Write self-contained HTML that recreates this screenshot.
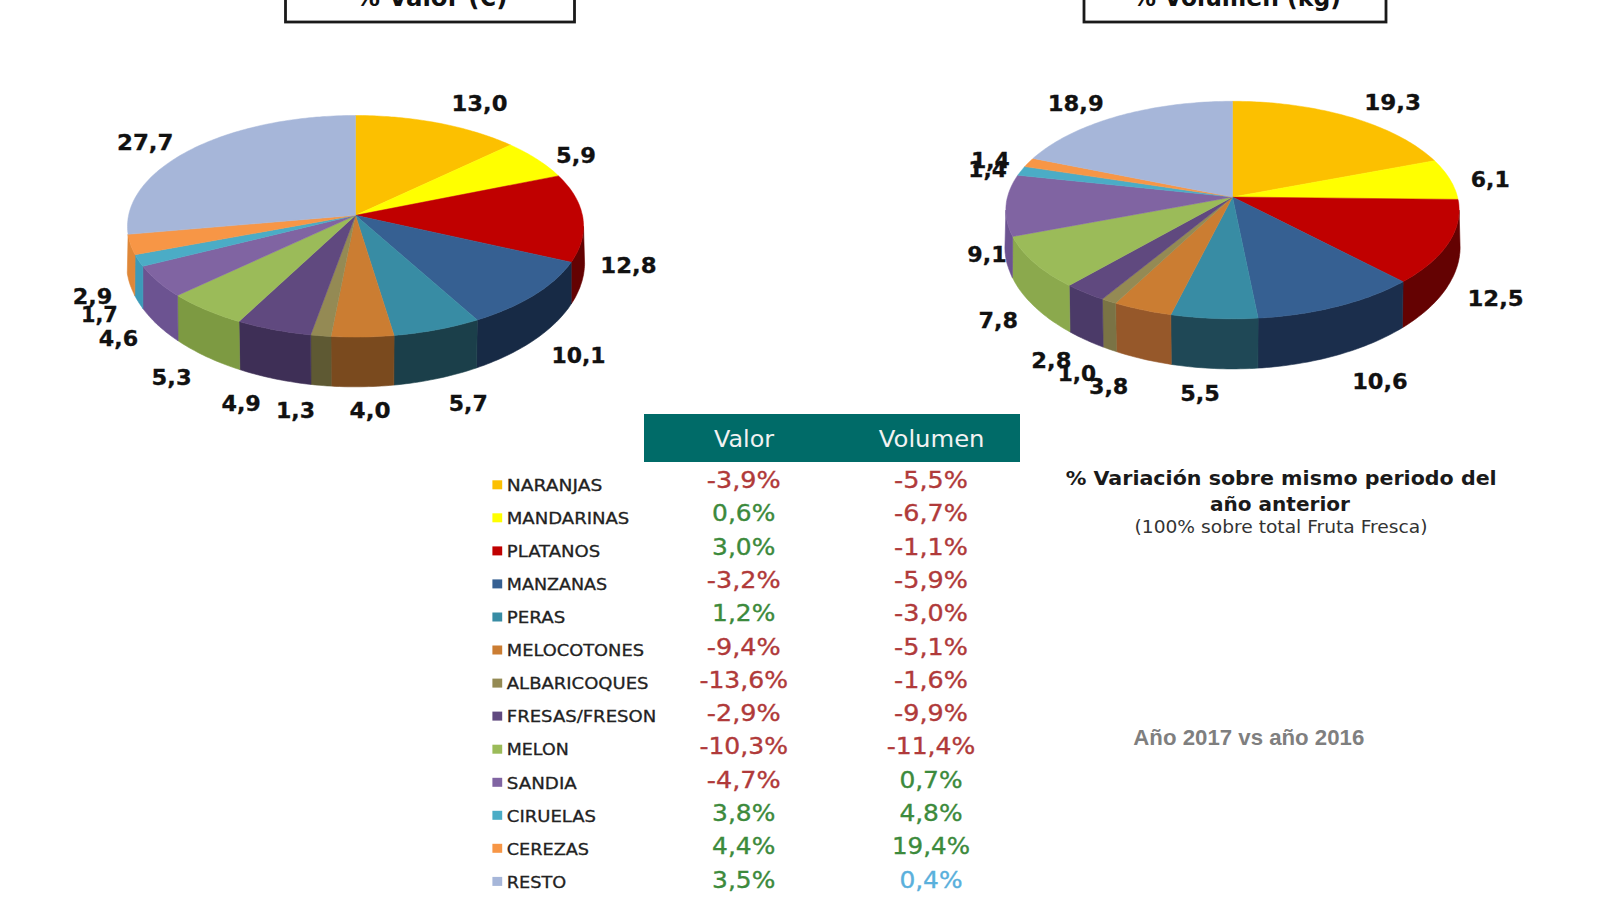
<!DOCTYPE html>
<html lang="es"><head><meta charset="utf-8"><title>Fruta fresca</title>
<style>
html,body{margin:0;padding:0;background:#fff;}
body{width:1600px;height:900px;overflow:hidden;}
svg{display:block;}
text{font-family:"DejaVu Sans","Liberation Sans",sans-serif;}
.pl text{font-weight:bold;font-size:21px;fill:#111;stroke:#111;stroke-width:0.3px;}
.lg{font-size:16px;fill:#222;stroke:#222;stroke-width:0.3px;}
.v{font-size:23px;stroke-width:0.35px;}
.h{font-size:23px;fill:#f2f2f2;}
.t{font-weight:bold;font-size:24px;fill:#111;text-anchor:middle;}
.n1{font-weight:bold;font-size:19.5px;fill:#1a1a1a;}
.n2{font-size:17.5px;fill:#333;}
.n3{font-family:"Liberation Sans","DejaVu Sans",sans-serif;font-weight:bold;font-size:21.5px;fill:#7f7f7f;}
</style></head><body>
<svg width="1600" height="900" viewBox="0 0 1600 900">
<rect width="1600" height="900" fill="#ffffff"/>
<rect x="285.5" y="-40" width="289" height="62" fill="none" stroke="#1a1a1a" stroke-width="2.8"/>
<text class="t" x="431.5" y="5.5" textLength="152" lengthAdjust="spacingAndGlyphs">% Valor (€)</text>
<rect x="1084" y="-40" width="302" height="62" fill="none" stroke="#1a1a1a" stroke-width="2.8"/>
<text class="t" x="1236.7" y="5.5" textLength="208.5" lengthAdjust="spacingAndGlyphs">% Volumen (kg)</text>
<g>
<path d="M583.5,226.3 L583.5,228.2 L583.4,230.1 L583.2,232.0 L583.0,233.9 L582.7,235.8 L582.3,237.7 L581.9,239.6 L581.4,241.5 L580.8,243.4 L580.1,245.3 L579.4,247.2 L578.6,249.1 L577.8,251.0 L576.8,252.9 L575.8,254.8 L574.8,256.6 L573.6,258.5 L572.4,260.4 L571.2,262.2 L571.2,304.0 L572.5,302.0 L573.8,299.9 L575.0,297.9 L576.1,295.8 L577.1,293.7 L578.1,291.6 L579.0,289.5 L579.9,287.4 L580.6,285.3 L581.3,283.2 L582.0,281.1 L582.5,279.0 L583.0,276.9 L583.5,274.8 L583.8,272.7 L584.1,270.6 L584.3,268.4 L584.5,266.3 L584.6,264.2Z" fill="#640202" stroke="#640202" stroke-width="0.6"/>
<path d="M571.2,262.2 L569.8,264.1 L568.4,265.9 L566.9,267.8 L565.3,269.6 L563.7,271.4 L562.0,273.3 L560.2,275.1 L558.4,276.8 L556.5,278.6 L554.5,280.4 L552.4,282.1 L550.3,283.8 L548.1,285.5 L545.9,287.2 L543.6,288.9 L541.2,290.6 L538.7,292.2 L536.2,293.8 L533.7,295.4 L531.0,297.0 L528.3,298.5 L525.6,300.1 L522.7,301.6 L519.8,303.1 L516.9,304.5 L513.9,306.0 L510.8,307.4 L507.7,308.7 L504.6,310.1 L501.3,311.4 L498.0,312.7 L494.7,314.0 L491.3,315.3 L487.9,316.5 L484.4,317.7 L480.9,318.8 L477.3,319.9 L476.5,367.9 L480.1,366.6 L483.6,365.4 L487.1,364.1 L490.6,362.7 L493.9,361.3 L497.3,359.9 L500.6,358.5 L503.8,357.0 L507.0,355.5 L510.1,354.0 L513.2,352.4 L516.2,350.8 L519.1,349.2 L522.0,347.6 L524.9,345.9 L527.7,344.2 L530.4,342.5 L533.0,340.8 L535.6,339.0 L538.2,337.2 L540.6,335.4 L543.0,333.6 L545.4,331.7 L547.7,329.8 L549.9,327.9 L552.0,326.0 L554.1,324.1 L556.1,322.2 L558.1,320.2 L560.0,318.2 L561.8,316.2 L563.5,314.2 L565.2,312.2 L566.8,310.2 L568.4,308.2 L569.8,306.1 L571.2,304.0Z" fill="#172A45" stroke="#172A45" stroke-width="0.6"/>
<path d="M477.3,319.9 L473.7,321.0 L470.0,322.1 L466.3,323.1 L462.6,324.1 L458.8,325.0 L455.0,325.9 L451.2,326.8 L447.3,327.7 L443.4,328.5 L439.4,329.3 L435.4,330.0 L431.4,330.7 L427.3,331.4 L423.3,332.0 L419.2,332.6 L415.0,333.2 L410.9,333.7 L406.7,334.2 L402.5,334.7 L398.3,335.1 L394.1,335.5 L393.8,385.1 L398.0,384.7 L402.2,384.2 L406.3,383.7 L410.5,383.2 L414.6,382.6 L418.7,382.0 L422.8,381.3 L426.8,380.6 L430.8,379.8 L434.8,379.1 L438.8,378.2 L442.7,377.4 L446.6,376.5 L450.5,375.5 L454.3,374.5 L458.1,373.5 L461.9,372.5 L465.6,371.4 L469.3,370.3 L472.9,369.1 L476.5,367.9Z" fill="#1B3F4A" stroke="#1B3F4A" stroke-width="0.6"/>
<path d="M394.1,335.5 L389.9,335.8 L385.8,336.1 L381.6,336.3 L377.4,336.5 L373.2,336.7 L369.0,336.9 L364.7,337.0 L360.5,337.0 L356.3,337.1 L352.1,337.0 L347.8,337.0 L343.6,336.9 L339.4,336.8 L335.2,336.6 L331.0,336.4 L331.2,386.1 L335.4,386.4 L339.5,386.5 L343.7,386.7 L347.9,386.8 L352.1,386.8 L356.3,386.8 L360.5,386.8 L364.7,386.7 L368.8,386.6 L373.0,386.5 L377.2,386.3 L381.4,386.0 L385.5,385.8 L389.7,385.4 L393.8,385.1Z" fill="#7A4A1E" stroke="#7A4A1E" stroke-width="0.6"/>
<path d="M331.0,336.4 L326.9,336.2 L322.8,335.9 L318.8,335.6 L314.7,335.3 L310.7,334.9 L311.0,384.4 L315.0,384.9 L319.1,385.2 L323.1,385.6 L327.1,385.9 L331.2,386.1Z" fill="#5E5933" stroke="#5E5933" stroke-width="0.6"/>
<path d="M310.7,334.9 L306.5,334.5 L302.3,334.0 L298.1,333.5 L294.0,332.9 L289.8,332.4 L285.7,331.7 L281.7,331.1 L277.6,330.4 L273.6,329.7 L269.6,328.9 L265.7,328.1 L261.7,327.3 L257.9,326.4 L254.0,325.5 L250.2,324.5 L246.4,323.6 L242.7,322.6 L239.0,321.5 L239.8,369.6 L243.5,370.8 L247.2,371.9 L250.9,373.0 L254.7,374.0 L258.5,375.0 L262.4,376.0 L266.3,376.9 L270.2,377.8 L274.2,378.7 L278.2,379.5 L282.2,380.2 L286.2,381.0 L290.3,381.6 L294.4,382.3 L298.5,382.9 L302.7,383.5 L306.8,384.0 L311.0,384.4Z" fill="#3E2F56" stroke="#3E2F56" stroke-width="0.6"/>
<path d="M239.0,321.5 L235.5,320.5 L232.0,319.4 L228.5,318.3 L225.1,317.2 L221.8,316.0 L218.5,314.8 L215.2,313.6 L212.0,312.3 L208.8,311.1 L205.7,309.8 L202.6,308.5 L199.6,307.1 L196.6,305.7 L193.7,304.3 L190.9,302.9 L188.1,301.5 L185.3,300.0 L182.7,298.5 L180.0,297.0 L177.5,295.5 L178.1,340.8 L180.7,342.5 L183.3,344.2 L186.0,345.8 L188.8,347.5 L191.6,349.1 L194.5,350.6 L197.4,352.2 L200.3,353.7 L203.4,355.2 L206.4,356.7 L209.6,358.1 L212.7,359.5 L216.0,360.9 L219.2,362.2 L222.5,363.5 L225.9,364.8 L229.3,366.1 L232.8,367.3 L236.3,368.5 L239.8,369.6Z" fill="#7D9A42" stroke="#7D9A42" stroke-width="0.6"/>
<path d="M177.5,295.5 L174.9,293.9 L172.4,292.3 L170.0,290.7 L167.6,289.0 L165.3,287.4 L163.1,285.7 L160.9,284.0 L158.8,282.3 L156.8,280.6 L154.8,278.8 L152.9,277.1 L151.1,275.3 L149.3,273.6 L147.6,271.8 L146.0,270.0 L144.4,268.1 L142.9,266.3 L142.9,308.6 L144.5,310.6 L146.1,312.6 L147.8,314.6 L149.5,316.6 L151.3,318.5 L153.2,320.5 L155.1,322.4 L157.1,324.4 L159.2,326.3 L161.4,328.2 L163.6,330.0 L165.8,331.9 L168.2,333.7 L170.5,335.5 L173.0,337.3 L175.5,339.1 L178.1,340.8Z" fill="#6C5391" stroke="#6C5391" stroke-width="0.6"/>
<path d="M142.9,266.3 L141.6,264.7 L140.4,263.0 L139.2,261.4 L138.1,259.7 L137.0,258.0 L136.0,256.3 L135.1,254.7 L134.8,295.7 L135.8,297.5 L136.9,299.4 L138.0,301.2 L139.1,303.1 L140.4,304.9 L141.6,306.7 L142.9,308.6Z" fill="#3C9AB8" stroke="#3C9AB8" stroke-width="0.6"/>
<path d="M135.1,254.7 L134.1,252.8 L133.2,251.0 L132.4,249.1 L131.6,247.3 L130.9,245.5 L130.3,243.6 L129.7,241.7 L129.2,239.9 L128.8,238.0 L128.4,236.2 L128.1,234.3 L127.3,273.2 L127.6,275.2 L128.1,277.3 L128.5,279.3 L129.1,281.4 L129.7,283.4 L130.4,285.5 L131.2,287.5 L132.0,289.6 L132.9,291.6 L133.8,293.6 L134.8,295.7Z" fill="#DF8738" stroke="#DF8738" stroke-width="0.6"/>
<path d="M355.5,215.3 L355.5,115.5 L359.1,115.5 L362.7,115.5 L366.3,115.6 L369.9,115.7 L373.4,115.8 L377.0,116.0 L380.6,116.2 L384.2,116.4 L387.7,116.6 L391.3,116.9 L394.8,117.1 L398.4,117.5 L401.9,117.8 L405.4,118.2 L408.9,118.6 L412.4,119.0 L415.9,119.4 L419.4,119.9 L422.8,120.4 L426.3,121.0 L429.7,121.5 L433.1,122.1 L436.5,122.7 L439.9,123.3 L443.2,124.0 L446.6,124.7 L449.9,125.4 L453.2,126.2 L456.4,126.9 L459.7,127.7 L462.9,128.5 L466.1,129.4 L469.3,130.3 L472.4,131.2 L475.5,132.1 L478.6,133.0 L481.7,134.0 L484.7,135.0 L487.7,136.0 L490.7,137.1 L493.6,138.1 L496.5,139.2 L499.4,140.3 L502.2,141.5 L505.0,142.6 L507.8,143.8 L510.5,145.0Z" fill="#FCC000" stroke="#FCC000" stroke-width="0.5"/>
<path d="M355.5,215.3 L510.5,145.0 L513.1,146.2 L515.7,147.4 L518.3,148.7 L520.8,149.9 L523.2,151.2 L525.6,152.5 L528.0,153.8 L530.4,155.2 L532.7,156.5 L534.9,157.9 L537.1,159.3 L539.3,160.7 L541.5,162.2 L543.5,163.6 L545.6,165.1 L547.6,166.6 L549.5,168.1 L551.4,169.6 L553.3,171.1 L555.1,172.7 L556.8,174.3 L558.5,175.9Z" fill="#FFFF00" stroke="#FFFF00" stroke-width="0.5"/>
<path d="M355.5,215.3 L558.5,175.9 L560.2,177.5 L561.8,179.1 L563.4,180.8 L564.9,182.5 L566.4,184.2 L567.8,185.9 L569.2,187.6 L570.5,189.3 L571.7,191.1 L572.9,192.8 L574.0,194.6 L575.1,196.4 L576.1,198.2 L577.0,200.0 L577.9,201.8 L578.7,203.6 L579.5,205.4 L580.1,207.3 L580.8,209.1 L581.3,211.0 L581.8,212.9 L582.3,214.7 L582.7,216.6 L583.0,218.5 L583.2,220.4 L583.4,222.3 L583.5,224.2 L583.5,226.1 L583.5,228.0 L583.4,229.9 L583.2,231.8 L583.0,233.7 L582.7,235.6 L582.3,237.6 L581.9,239.5 L581.4,241.4 L580.8,243.3 L580.2,245.2 L579.4,247.1 L578.7,249.0 L577.8,250.9 L576.9,252.8 L575.9,254.7 L574.8,256.6 L573.7,258.5 L572.4,260.4 L571.2,262.2Z" fill="#C00000" stroke="#C00000" stroke-width="0.5"/>
<path d="M355.5,215.3 L571.2,262.2 L569.8,264.1 L568.4,265.9 L566.9,267.8 L565.3,269.6 L563.7,271.4 L562.0,273.3 L560.2,275.1 L558.4,276.8 L556.5,278.6 L554.5,280.4 L552.4,282.1 L550.3,283.8 L548.1,285.5 L545.9,287.2 L543.6,288.9 L541.2,290.6 L538.7,292.2 L536.2,293.8 L533.7,295.4 L531.0,297.0 L528.3,298.5 L525.6,300.1 L522.7,301.6 L519.8,303.1 L516.9,304.5 L513.9,306.0 L510.8,307.4 L507.7,308.7 L504.6,310.1 L501.3,311.4 L498.0,312.7 L494.7,314.0 L491.3,315.3 L487.9,316.5 L484.4,317.7 L480.9,318.8 L477.3,319.9Z" fill="#366092" stroke="#366092" stroke-width="0.5"/>
<path d="M355.5,215.3 L477.3,319.9 L473.7,321.0 L470.0,322.1 L466.3,323.1 L462.6,324.1 L458.8,325.0 L455.0,325.9 L451.2,326.8 L447.3,327.7 L443.4,328.5 L439.4,329.3 L435.4,330.0 L431.4,330.7 L427.3,331.4 L423.3,332.0 L419.2,332.6 L415.0,333.2 L410.9,333.7 L406.7,334.2 L402.5,334.7 L398.3,335.1 L394.1,335.5Z" fill="#388CA4" stroke="#388CA4" stroke-width="0.5"/>
<path d="M355.5,215.3 L394.1,335.5 L389.9,335.8 L385.8,336.1 L381.6,336.3 L377.4,336.5 L373.2,336.7 L369.0,336.9 L364.7,337.0 L360.5,337.0 L356.3,337.1 L352.1,337.0 L347.8,337.0 L343.6,336.9 L339.4,336.8 L335.2,336.6 L331.0,336.4Z" fill="#CB7D32" stroke="#CB7D32" stroke-width="0.5"/>
<path d="M355.5,215.3 L331.0,336.4 L326.9,336.2 L322.8,335.9 L318.8,335.6 L314.7,335.3 L310.7,334.9Z" fill="#948A54" stroke="#948A54" stroke-width="0.5"/>
<path d="M355.5,215.3 L310.7,334.9 L306.5,334.5 L302.3,334.0 L298.1,333.5 L294.0,332.9 L289.8,332.4 L285.7,331.7 L281.7,331.1 L277.6,330.4 L273.6,329.7 L269.6,328.9 L265.7,328.1 L261.7,327.3 L257.9,326.4 L254.0,325.5 L250.2,324.5 L246.4,323.6 L242.7,322.6 L239.0,321.5Z" fill="#60497F" stroke="#60497F" stroke-width="0.5"/>
<path d="M355.5,215.3 L239.0,321.5 L235.5,320.5 L232.0,319.4 L228.5,318.3 L225.1,317.2 L221.8,316.0 L218.5,314.8 L215.2,313.6 L212.0,312.3 L208.8,311.1 L205.7,309.8 L202.6,308.5 L199.6,307.1 L196.6,305.7 L193.7,304.3 L190.9,302.9 L188.1,301.5 L185.3,300.0 L182.7,298.5 L180.0,297.0 L177.5,295.5Z" fill="#9BBB59" stroke="#9BBB59" stroke-width="0.5"/>
<path d="M355.5,215.3 L177.5,295.5 L174.9,293.9 L172.4,292.3 L170.0,290.7 L167.6,289.0 L165.3,287.4 L163.1,285.7 L160.9,284.0 L158.8,282.3 L156.8,280.6 L154.8,278.8 L152.9,277.1 L151.1,275.3 L149.3,273.6 L147.6,271.8 L146.0,270.0 L144.4,268.1 L142.9,266.3Z" fill="#8064A2" stroke="#8064A2" stroke-width="0.5"/>
<path d="M355.5,215.3 L142.9,266.3 L141.6,264.7 L140.4,263.0 L139.2,261.4 L138.1,259.7 L137.0,258.0 L136.0,256.3 L135.1,254.7Z" fill="#4BACC6" stroke="#4BACC6" stroke-width="0.5"/>
<path d="M355.5,215.3 L135.1,254.7 L134.1,252.8 L133.2,251.0 L132.4,249.1 L131.6,247.3 L130.9,245.5 L130.3,243.6 L129.7,241.7 L129.2,239.9 L128.8,238.0 L128.4,236.2 L128.1,234.3Z" fill="#F79646" stroke="#F79646" stroke-width="0.5"/>
<path d="M355.5,215.3 L128.1,234.3 L127.8,232.4 L127.6,230.4 L127.5,228.5 L127.5,226.6 L127.5,224.6 L127.6,222.7 L127.8,220.7 L128.0,218.8 L128.3,216.9 L128.7,215.0 L129.1,213.1 L129.6,211.2 L130.2,209.3 L130.8,207.4 L131.5,205.5 L132.3,203.7 L133.1,201.8 L134.0,200.0 L135.0,198.1 L136.0,196.3 L137.1,194.5 L138.2,192.7 L139.4,190.9 L140.7,189.1 L142.0,187.4 L143.4,185.6 L144.8,183.9 L146.3,182.2 L147.9,180.5 L149.5,178.8 L151.1,177.1 L152.9,175.5 L154.6,173.8 L156.5,172.2 L158.3,170.6 L160.3,169.0 L162.3,167.5 L164.3,165.9 L166.4,164.4 L168.5,162.9 L170.7,161.4 L172.9,159.9 L175.2,158.5 L177.5,157.0 L179.9,155.6 L182.3,154.2 L184.7,152.9 L187.2,151.5 L189.7,150.2 L192.3,148.9 L194.9,147.6 L197.6,146.3 L200.3,145.1 L203.0,143.9 L205.8,142.7 L208.6,141.5 L211.4,140.4 L214.3,139.3 L217.2,138.2 L220.1,137.1 L223.1,136.1 L226.1,135.0 L229.2,134.0 L232.2,133.1 L235.3,132.1 L238.4,131.2 L241.6,130.3 L244.8,129.4 L248.0,128.6 L251.2,127.8 L254.4,127.0 L257.7,126.2 L261.0,125.4 L264.3,124.7 L267.7,124.0 L271.0,123.4 L274.4,122.7 L277.8,122.1 L281.2,121.5 L284.6,121.0 L288.1,120.4 L291.5,119.9 L295.0,119.5 L298.5,119.0 L302.0,118.6 L305.5,118.2 L309.0,117.8 L312.6,117.5 L316.1,117.1 L319.7,116.9 L323.2,116.6 L326.8,116.4 L330.4,116.2 L333.9,116.0 L337.5,115.8 L341.1,115.7 L344.7,115.6 L348.3,115.5 L351.9,115.5 L355.5,115.5Z" fill="#A6B6D9" stroke="#A6B6D9" stroke-width="0.5"/>
</g>
<g>
<path d="M1459.1,210.1 L1459.1,211.9 L1459.0,213.8 L1458.8,215.7 L1458.6,217.6 L1458.3,219.5 L1457.9,221.4 L1457.5,223.3 L1456.9,225.1 L1456.4,227.0 L1455.7,228.9 L1455.0,230.8 L1454.2,232.7 L1453.3,234.6 L1452.4,236.5 L1451.3,238.3 L1450.3,240.2 L1449.1,242.1 L1447.9,243.9 L1446.6,245.8 L1445.2,247.6 L1443.8,249.4 L1442.3,251.2 L1440.7,253.1 L1439.0,254.9 L1437.3,256.6 L1435.5,258.4 L1433.6,260.2 L1431.7,261.9 L1429.7,263.7 L1427.6,265.4 L1425.4,267.1 L1423.2,268.8 L1420.9,270.5 L1418.6,272.1 L1416.2,273.8 L1413.7,275.4 L1411.1,277.0 L1408.5,278.6 L1405.8,280.1 L1403.1,281.7 L1402.4,327.7 L1405.2,326.0 L1407.9,324.3 L1410.5,322.5 L1413.1,320.7 L1415.6,318.9 L1418.0,317.1 L1420.4,315.3 L1422.7,313.4 L1425.0,311.6 L1427.1,309.7 L1429.3,307.8 L1431.3,305.8 L1433.3,303.9 L1435.2,301.9 L1437.0,300.0 L1438.8,298.0 L1440.5,296.0 L1442.1,294.0 L1443.7,291.9 L1445.2,289.9 L1446.6,287.9 L1447.9,285.8 L1449.2,283.8 L1450.4,281.7 L1451.5,279.6 L1452.6,277.6 L1453.6,275.5 L1454.5,273.4 L1455.4,271.3 L1456.1,269.2 L1456.9,267.1 L1457.5,265.0 L1458.1,262.9 L1458.6,260.8 L1459.0,258.7 L1459.4,256.6 L1459.6,254.5 L1459.9,252.4 L1460.0,250.4 L1460.1,248.3Z" fill="#640202" stroke="#640202" stroke-width="0.6"/>
<path d="M1403.1,281.7 L1400.3,283.2 L1397.4,284.6 L1394.5,286.1 L1391.5,287.5 L1388.5,289.0 L1385.4,290.3 L1382.3,291.7 L1379.0,293.0 L1375.8,294.3 L1372.4,295.6 L1369.1,296.9 L1365.6,298.1 L1362.2,299.3 L1358.6,300.4 L1355.1,301.5 L1351.4,302.6 L1347.8,303.7 L1344.0,304.7 L1340.3,305.7 L1336.5,306.7 L1332.6,307.6 L1328.7,308.5 L1324.8,309.4 L1320.9,310.2 L1316.9,311.0 L1312.8,311.8 L1308.8,312.5 L1304.7,313.2 L1300.5,313.8 L1296.4,314.4 L1292.2,315.0 L1288.0,315.5 L1283.8,316.0 L1279.6,316.4 L1275.3,316.9 L1271.0,317.2 L1266.7,317.6 L1262.4,317.9 L1258.1,318.1 L1257.9,368.1 L1262.2,367.9 L1266.5,367.5 L1270.7,367.2 L1275.0,366.7 L1279.2,366.3 L1283.4,365.8 L1287.6,365.2 L1291.8,364.6 L1295.9,364.0 L1300.0,363.3 L1304.1,362.6 L1308.2,361.9 L1312.2,361.1 L1316.2,360.2 L1320.2,359.4 L1324.2,358.5 L1328.1,357.5 L1331.9,356.5 L1335.8,355.5 L1339.6,354.4 L1343.3,353.3 L1347.0,352.1 L1350.7,351.0 L1354.3,349.8 L1357.9,348.5 L1361.4,347.2 L1364.9,345.9 L1368.3,344.5 L1371.7,343.2 L1375.0,341.8 L1378.3,340.3 L1381.5,338.8 L1384.6,337.3 L1387.7,335.8 L1390.8,334.2 L1393.8,332.6 L1396.7,331.0 L1399.6,329.4 L1402.4,327.7Z" fill="#1B2E4C" stroke="#1B2E4C" stroke-width="0.6"/>
<path d="M1258.1,318.1 L1253.7,318.3 L1249.3,318.5 L1244.9,318.7 L1240.5,318.8 L1236.1,318.8 L1231.7,318.8 L1227.3,318.8 L1222.9,318.7 L1218.5,318.6 L1214.1,318.5 L1209.7,318.3 L1205.3,318.0 L1200.9,317.8 L1196.6,317.4 L1192.3,317.1 L1187.9,316.7 L1183.6,316.3 L1179.3,315.8 L1175.1,315.3 L1170.8,314.7 L1171.3,364.4 L1175.5,365.0 L1179.8,365.5 L1184.0,366.1 L1188.3,366.6 L1192.6,367.0 L1196.9,367.4 L1201.2,367.7 L1205.5,368.0 L1209.9,368.3 L1214.2,368.5 L1218.6,368.7 L1223.0,368.8 L1227.3,368.9 L1231.7,368.9 L1236.1,368.9 L1240.5,368.8 L1244.8,368.7 L1249.2,368.6 L1253.5,368.4 L1257.9,368.1Z" fill="#1F4856" stroke="#1F4856" stroke-width="0.6"/>
<path d="M1170.8,314.7 L1166.7,314.1 L1162.6,313.5 L1158.5,312.8 L1154.4,312.2 L1150.3,311.4 L1146.3,310.6 L1142.3,309.8 L1138.4,309.0 L1134.5,308.1 L1130.6,307.2 L1126.8,306.3 L1123.0,305.3 L1119.3,304.3 L1115.6,303.2 L1116.4,351.6 L1120.0,352.8 L1123.8,353.9 L1127.5,355.0 L1131.3,356.0 L1135.2,357.1 L1139.1,358.0 L1143.0,359.0 L1146.9,359.9 L1150.9,360.7 L1154.9,361.5 L1159.0,362.3 L1163.1,363.0 L1167.2,363.7 L1171.3,364.4Z" fill="#96582A" stroke="#96582A" stroke-width="0.6"/>
<path d="M1115.6,303.2 L1112.2,302.2 L1108.9,301.2 L1105.6,300.2 L1102.4,299.1 L1103.2,347.1 L1106.4,348.2 L1109.7,349.4 L1113.0,350.5 L1116.4,351.6Z" fill="#7A7345" stroke="#7A7345" stroke-width="0.6"/>
<path d="M1102.4,299.1 L1099.2,298.0 L1095.9,296.9 L1092.8,295.7 L1089.7,294.5 L1086.6,293.3 L1083.6,292.0 L1080.6,290.8 L1077.7,289.5 L1074.8,288.2 L1072.0,286.8 L1069.2,285.5 L1070.0,331.9 L1072.7,333.4 L1075.6,334.9 L1078.4,336.4 L1081.4,337.8 L1084.4,339.2 L1087.4,340.6 L1090.4,341.9 L1093.6,343.3 L1096.7,344.6 L1099.9,345.8 L1103.2,347.1Z" fill="#4B3A68" stroke="#4B3A68" stroke-width="0.6"/>
<path d="M1069.2,285.5 L1066.4,284.0 L1063.6,282.6 L1060.8,281.1 L1058.1,279.5 L1055.5,278.0 L1053.0,276.4 L1050.5,274.9 L1048.1,273.3 L1045.7,271.6 L1043.4,270.0 L1041.2,268.4 L1039.0,266.7 L1036.9,265.0 L1034.9,263.3 L1032.9,261.6 L1031.0,259.9 L1029.2,258.1 L1027.4,256.4 L1025.8,254.6 L1024.1,252.8 L1022.6,251.1 L1021.1,249.3 L1019.7,247.5 L1018.3,245.6 L1017.1,243.8 L1015.9,242.0 L1014.7,240.2 L1013.7,238.3 L1012.7,236.5 L1012.4,277.6 L1013.5,279.6 L1014.6,281.7 L1015.8,283.7 L1017.0,285.7 L1018.3,287.8 L1019.7,289.8 L1021.2,291.8 L1022.7,293.8 L1024.3,295.7 L1026.0,297.7 L1027.7,299.7 L1029.5,301.6 L1031.4,303.5 L1033.3,305.4 L1035.3,307.3 L1037.4,309.2 L1039.5,311.1 L1041.7,312.9 L1043.9,314.8 L1046.3,316.6 L1048.6,318.4 L1051.1,320.2 L1053.6,321.9 L1056.2,323.6 L1058.8,325.3 L1061.5,327.0 L1064.3,328.7 L1067.1,330.3 L1070.0,331.9Z" fill="#8BA94D" stroke="#8BA94D" stroke-width="0.6"/>
<path d="M1012.7,236.5 L1011.7,234.6 L1010.8,232.7 L1010.0,230.8 L1009.3,229.0 L1008.7,227.1 L1008.1,225.2 L1007.5,223.3 L1007.1,221.4 L1006.7,219.5 L1006.4,217.6 L1006.2,215.7 L1006.0,213.8 L1005.9,211.9 L1005.9,210.1 L1004.9,248.3 L1005.0,250.4 L1005.1,252.5 L1005.4,254.5 L1005.6,256.6 L1006.0,258.7 L1006.4,260.8 L1006.9,262.9 L1007.5,265.0 L1008.2,267.1 L1008.9,269.2 L1009.7,271.3 L1010.5,273.4 L1011.4,275.5 L1012.4,277.6Z" fill="#6C5391" stroke="#6C5391" stroke-width="0.6"/>
<path d="M1232.5,197.0 L1232.5,101.3 L1236.0,101.3 L1239.4,101.3 L1242.9,101.4 L1246.4,101.5 L1249.9,101.6 L1253.3,101.7 L1256.8,101.9 L1260.2,102.1 L1263.7,102.3 L1267.1,102.6 L1270.5,102.8 L1274.0,103.1 L1277.4,103.4 L1280.8,103.8 L1284.2,104.2 L1287.6,104.5 L1291.0,105.0 L1294.3,105.4 L1297.7,105.9 L1301.0,106.4 L1304.3,106.9 L1307.7,107.4 L1311.0,108.0 L1314.2,108.6 L1317.5,109.2 L1320.7,109.9 L1324.0,110.5 L1327.2,111.2 L1330.3,111.9 L1333.5,112.7 L1336.7,113.5 L1339.8,114.2 L1342.9,115.1 L1345.9,115.9 L1349.0,116.8 L1352.0,117.6 L1355.0,118.5 L1358.0,119.5 L1360.9,120.4 L1363.9,121.4 L1366.7,122.4 L1369.6,123.4 L1372.4,124.5 L1375.2,125.6 L1378.0,126.7 L1380.7,127.8 L1383.4,128.9 L1386.1,130.1 L1388.7,131.2 L1391.3,132.4 L1393.9,133.7 L1396.4,134.9 L1398.9,136.2 L1401.3,137.5 L1403.7,138.8 L1406.1,140.1 L1408.4,141.5 L1410.7,142.8 L1412.9,144.2 L1415.1,145.6 L1417.2,147.1 L1419.3,148.5 L1421.4,150.0 L1423.4,151.4 L1425.4,152.9 L1427.3,154.5 L1429.2,156.0 L1431.0,157.6 L1432.8,159.1 L1434.5,160.7Z" fill="#FCC000" stroke="#FCC000" stroke-width="0.5"/>
<path d="M1232.5,197.0 L1434.5,160.7 L1436.2,162.3 L1437.8,164.0 L1439.4,165.6 L1440.9,167.3 L1442.3,168.9 L1443.7,170.6 L1445.1,172.3 L1446.4,174.1 L1447.6,175.8 L1448.8,177.5 L1449.9,179.3 L1450.9,181.1 L1451.9,182.8 L1452.9,184.6 L1453.7,186.4 L1454.5,188.3 L1455.3,190.1 L1456.0,191.9 L1456.6,193.8 L1457.1,195.6 L1457.6,197.5 L1458.0,199.4Z" fill="#FFFF00" stroke="#FFFF00" stroke-width="0.5"/>
<path d="M1232.5,197.0 L1458.0,199.4 L1458.4,201.2 L1458.7,203.1 L1458.9,205.0 L1459.0,206.9 L1459.1,208.8 L1459.1,210.7 L1459.1,212.6 L1458.9,214.6 L1458.7,216.5 L1458.5,218.4 L1458.1,220.3 L1457.7,222.2 L1457.2,224.2 L1456.7,226.1 L1456.0,228.0 L1455.3,229.9 L1454.5,231.8 L1453.7,233.7 L1452.8,235.7 L1451.8,237.6 L1450.7,239.5 L1449.6,241.4 L1448.3,243.2 L1447.0,245.1 L1445.7,247.0 L1444.2,248.9 L1442.7,250.7 L1441.1,252.6 L1439.5,254.4 L1437.7,256.2 L1435.9,258.0 L1434.0,259.8 L1432.1,261.6 L1430.0,263.4 L1427.9,265.1 L1425.8,266.9 L1423.5,268.6 L1421.2,270.3 L1418.8,272.0 L1416.4,273.6 L1413.9,275.3 L1411.3,276.9 L1408.6,278.5 L1405.9,280.1 L1403.1,281.7Z" fill="#C00000" stroke="#C00000" stroke-width="0.5"/>
<path d="M1232.5,197.0 L1403.1,281.7 L1400.3,283.2 L1397.4,284.6 L1394.5,286.1 L1391.5,287.5 L1388.5,289.0 L1385.4,290.3 L1382.3,291.7 L1379.0,293.0 L1375.8,294.3 L1372.4,295.6 L1369.1,296.9 L1365.6,298.1 L1362.2,299.3 L1358.6,300.4 L1355.1,301.5 L1351.4,302.6 L1347.8,303.7 L1344.0,304.7 L1340.3,305.7 L1336.5,306.7 L1332.6,307.6 L1328.7,308.5 L1324.8,309.4 L1320.9,310.2 L1316.9,311.0 L1312.8,311.8 L1308.8,312.5 L1304.7,313.2 L1300.5,313.8 L1296.4,314.4 L1292.2,315.0 L1288.0,315.5 L1283.8,316.0 L1279.6,316.4 L1275.3,316.9 L1271.0,317.2 L1266.7,317.6 L1262.4,317.9 L1258.1,318.1Z" fill="#366092" stroke="#366092" stroke-width="0.5"/>
<path d="M1232.5,197.0 L1258.1,318.1 L1253.7,318.3 L1249.3,318.5 L1244.9,318.7 L1240.5,318.8 L1236.1,318.8 L1231.7,318.8 L1227.3,318.8 L1222.9,318.7 L1218.5,318.6 L1214.1,318.5 L1209.7,318.3 L1205.3,318.0 L1200.9,317.8 L1196.6,317.4 L1192.3,317.1 L1187.9,316.7 L1183.6,316.3 L1179.3,315.8 L1175.1,315.3 L1170.8,314.7Z" fill="#388CA4" stroke="#388CA4" stroke-width="0.5"/>
<path d="M1232.5,197.0 L1170.8,314.7 L1166.7,314.1 L1162.6,313.5 L1158.5,312.8 L1154.4,312.2 L1150.3,311.4 L1146.3,310.6 L1142.3,309.8 L1138.4,309.0 L1134.5,308.1 L1130.6,307.2 L1126.8,306.3 L1123.0,305.3 L1119.3,304.3 L1115.6,303.2Z" fill="#CB7D32" stroke="#CB7D32" stroke-width="0.5"/>
<path d="M1232.5,197.0 L1115.6,303.2 L1112.2,302.2 L1108.9,301.2 L1105.6,300.2 L1102.4,299.1Z" fill="#948A54" stroke="#948A54" stroke-width="0.5"/>
<path d="M1232.5,197.0 L1102.4,299.1 L1099.2,298.0 L1095.9,296.9 L1092.8,295.7 L1089.7,294.5 L1086.6,293.3 L1083.6,292.0 L1080.6,290.8 L1077.7,289.5 L1074.8,288.2 L1072.0,286.8 L1069.2,285.5Z" fill="#60497F" stroke="#60497F" stroke-width="0.5"/>
<path d="M1232.5,197.0 L1069.2,285.5 L1066.4,284.0 L1063.6,282.6 L1060.8,281.1 L1058.1,279.5 L1055.5,278.0 L1053.0,276.4 L1050.5,274.9 L1048.1,273.3 L1045.7,271.6 L1043.4,270.0 L1041.2,268.4 L1039.0,266.7 L1036.9,265.0 L1034.9,263.3 L1032.9,261.6 L1031.0,259.9 L1029.2,258.1 L1027.4,256.4 L1025.8,254.6 L1024.1,252.8 L1022.6,251.1 L1021.1,249.3 L1019.7,247.5 L1018.3,245.6 L1017.1,243.8 L1015.9,242.0 L1014.7,240.2 L1013.7,238.3 L1012.7,236.5Z" fill="#9BBB59" stroke="#9BBB59" stroke-width="0.5"/>
<path d="M1232.5,197.0 L1012.7,236.5 L1011.7,234.6 L1010.8,232.7 L1010.0,230.8 L1009.3,228.9 L1008.6,227.0 L1008.0,225.1 L1007.5,223.2 L1007.1,221.3 L1006.7,219.4 L1006.4,217.5 L1006.2,215.6 L1006.0,213.6 L1005.9,211.7 L1005.9,209.9 L1005.9,208.0 L1006.0,206.1 L1006.2,204.2 L1006.4,202.3 L1006.7,200.4 L1007.1,198.6 L1007.6,196.7 L1008.1,194.9 L1008.7,193.0 L1009.3,191.2 L1010.0,189.4 L1010.8,187.6 L1011.6,185.8 L1012.5,184.0 L1013.4,182.2 L1014.4,180.4 L1015.5,178.7 L1016.6,176.9 L1017.8,175.2Z" fill="#8064A2" stroke="#8064A2" stroke-width="0.5"/>
<path d="M1232.5,197.0 L1017.8,175.2 L1018.9,173.7 L1020.0,172.3 L1021.1,170.9 L1022.3,169.4 L1023.5,168.0 L1024.7,166.6Z" fill="#4BACC6" stroke="#4BACC6" stroke-width="0.5"/>
<path d="M1232.5,197.0 L1024.7,166.6 L1026.0,165.2 L1027.3,163.8 L1028.7,162.5 L1030.1,161.1 L1031.6,159.8 L1033.0,158.4Z" fill="#F79646" stroke="#F79646" stroke-width="0.5"/>
<path d="M1232.5,197.0 L1033.0,158.4 L1034.8,156.8 L1036.7,155.3 L1038.6,153.7 L1040.6,152.2 L1042.6,150.7 L1044.6,149.2 L1046.7,147.8 L1048.9,146.3 L1051.0,144.9 L1053.3,143.5 L1055.6,142.1 L1057.9,140.7 L1060.2,139.4 L1062.6,138.0 L1065.1,136.7 L1067.6,135.4 L1070.1,134.2 L1072.7,132.9 L1075.3,131.7 L1077.9,130.5 L1080.6,129.3 L1083.3,128.2 L1086.0,127.1 L1088.8,125.9 L1091.6,124.9 L1094.4,123.8 L1097.3,122.8 L1100.2,121.7 L1103.1,120.7 L1106.1,119.8 L1109.1,118.8 L1112.1,117.9 L1115.1,117.0 L1118.2,116.1 L1121.3,115.3 L1124.4,114.4 L1127.6,113.6 L1130.7,112.9 L1133.9,112.1 L1137.1,111.4 L1140.3,110.7 L1143.6,110.0 L1146.9,109.4 L1150.1,108.7 L1153.4,108.1 L1156.8,107.5 L1160.1,107.0 L1163.4,106.5 L1166.8,106.0 L1170.2,105.5 L1173.6,105.0 L1177.0,104.6 L1180.4,104.2 L1183.8,103.8 L1187.2,103.5 L1190.7,103.2 L1194.1,102.9 L1197.6,102.6 L1201.1,102.3 L1204.6,102.1 L1208.0,101.9 L1211.5,101.8 L1215.0,101.6 L1218.5,101.5 L1222.0,101.4 L1225.5,101.3 L1229.0,101.3 L1232.5,101.3Z" fill="#A6B6D9" stroke="#A6B6D9" stroke-width="0.5"/>
</g>
<g class="pl">
<text x="451.5" y="111.0" textLength="56.0" lengthAdjust="spacingAndGlyphs">13,0</text>
<text x="556.0" y="162.5" textLength="40.0" lengthAdjust="spacingAndGlyphs">5,9</text>
<text x="117.0" y="150.0" textLength="56.5" lengthAdjust="spacingAndGlyphs">27,7</text>
<text x="600.3" y="273.0" textLength="56.3" lengthAdjust="spacingAndGlyphs">12,8</text>
<text x="551.4" y="363.4" textLength="54.2" lengthAdjust="spacingAndGlyphs">10,1</text>
<text x="448.8" y="411.0" textLength="38.9" lengthAdjust="spacingAndGlyphs">5,7</text>
<text x="349.6" y="417.6" textLength="41.0" lengthAdjust="spacingAndGlyphs">4,0</text>
<text x="276.0" y="418.0" textLength="39.1" lengthAdjust="spacingAndGlyphs">1,3</text>
<text x="221.4" y="411.3" textLength="39.5" lengthAdjust="spacingAndGlyphs">4,9</text>
<text x="151.6" y="384.7" textLength="40.0" lengthAdjust="spacingAndGlyphs">5,3</text>
<text x="98.8" y="346.1" textLength="39.4" lengthAdjust="spacingAndGlyphs">4,6</text>
<text x="81.0" y="322.4" textLength="36.8" lengthAdjust="spacingAndGlyphs">1,7</text>
<text x="72.8" y="304.0" textLength="39.6" lengthAdjust="spacingAndGlyphs">2,9</text>
<text x="1364.2" y="110.4" textLength="56.8" lengthAdjust="spacingAndGlyphs">19,3</text>
<text x="1470.8" y="186.8" textLength="38.9" lengthAdjust="spacingAndGlyphs">6,1</text>
<text x="1047.8" y="111.1" textLength="56.0" lengthAdjust="spacingAndGlyphs">18,9</text>
<text x="1467.4" y="306.0" textLength="56.3" lengthAdjust="spacingAndGlyphs">12,5</text>
<text x="1352.2" y="389.3" textLength="55.5" lengthAdjust="spacingAndGlyphs">10,6</text>
<text x="1180.2" y="400.8" textLength="39.6" lengthAdjust="spacingAndGlyphs">5,5</text>
<text x="1088.9" y="393.6" textLength="39.5" lengthAdjust="spacingAndGlyphs">3,8</text>
<text x="1057.7" y="381.0" textLength="38.4" lengthAdjust="spacingAndGlyphs">1,0</text>
<text x="1031.3" y="368.3" textLength="40.1" lengthAdjust="spacingAndGlyphs">2,8</text>
<text x="978.5" y="327.8" textLength="39.5" lengthAdjust="spacingAndGlyphs">7,8</text>
<text x="967.3" y="261.9" textLength="39.3" lengthAdjust="spacingAndGlyphs">9,1</text>
<text x="971.0" y="168.1" textLength="38.9" lengthAdjust="spacingAndGlyphs">1,4</text>
<text x="968.3" y="177.4" textLength="38.5" lengthAdjust="spacingAndGlyphs">1,4</text>
</g>
<rect x="644" y="414" width="376" height="48" fill="#006B68"/>
<text class="h" x="714" y="447.3" textLength="60" lengthAdjust="spacingAndGlyphs">Valor</text>
<text class="h" x="878.8" y="447.3" textLength="105.7" lengthAdjust="spacingAndGlyphs">Volumen</text>
<rect x="492.4" y="480.3" width="9.8" height="9" fill="#FCC000"/>
<text class="lg" x="506.8" y="491.0" textLength="95.5" lengthAdjust="spacingAndGlyphs">NARANJAS</text>
<text class="v" x="706.8" y="488.0" fill="#B03A3A" stroke="#B03A3A" textLength="73.8" lengthAdjust="spacingAndGlyphs">-3,9%</text>
<text class="v" x="894.1" y="488.0" fill="#B03A3A" stroke="#B03A3A" textLength="73.8" lengthAdjust="spacingAndGlyphs">-5,5%</text>
<rect x="492.4" y="513.3" width="9.8" height="9" fill="#FFFF00"/>
<text class="lg" x="506.8" y="524.0" textLength="122.5" lengthAdjust="spacingAndGlyphs">MANDARINAS</text>
<text class="v" x="712.1" y="521.3" fill="#3C8A3C" stroke="#3C8A3C" textLength="63.2" lengthAdjust="spacingAndGlyphs">0,6%</text>
<text class="v" x="894.1" y="521.3" fill="#B03A3A" stroke="#B03A3A" textLength="73.8" lengthAdjust="spacingAndGlyphs">-6,7%</text>
<rect x="492.4" y="546.4" width="9.8" height="9" fill="#C00000"/>
<text class="lg" x="506.8" y="557.1" textLength="93.4" lengthAdjust="spacingAndGlyphs">PLATANOS</text>
<text class="v" x="712.1" y="554.6" fill="#3C8A3C" stroke="#3C8A3C" textLength="63.2" lengthAdjust="spacingAndGlyphs">3,0%</text>
<text class="v" x="894.1" y="554.6" fill="#B03A3A" stroke="#B03A3A" textLength="73.8" lengthAdjust="spacingAndGlyphs">-1,1%</text>
<rect x="492.4" y="579.4" width="9.8" height="9" fill="#366092"/>
<text class="lg" x="506.8" y="590.1" textLength="100.4" lengthAdjust="spacingAndGlyphs">MANZANAS</text>
<text class="v" x="706.8" y="587.9" fill="#B03A3A" stroke="#B03A3A" textLength="73.8" lengthAdjust="spacingAndGlyphs">-3,2%</text>
<text class="v" x="894.1" y="587.9" fill="#B03A3A" stroke="#B03A3A" textLength="73.8" lengthAdjust="spacingAndGlyphs">-5,9%</text>
<rect x="492.4" y="612.5" width="9.8" height="9" fill="#388CA4"/>
<text class="lg" x="506.8" y="623.2" textLength="58.4" lengthAdjust="spacingAndGlyphs">PERAS</text>
<text class="v" x="712.1" y="621.2" fill="#3C8A3C" stroke="#3C8A3C" textLength="63.2" lengthAdjust="spacingAndGlyphs">1,2%</text>
<text class="v" x="894.1" y="621.2" fill="#B03A3A" stroke="#B03A3A" textLength="73.8" lengthAdjust="spacingAndGlyphs">-3,0%</text>
<rect x="492.4" y="645.5" width="9.8" height="9" fill="#CB7D32"/>
<text class="lg" x="506.8" y="656.2" textLength="137.2" lengthAdjust="spacingAndGlyphs">MELOCOTONES</text>
<text class="v" x="706.8" y="654.5" fill="#B03A3A" stroke="#B03A3A" textLength="73.8" lengthAdjust="spacingAndGlyphs">-9,4%</text>
<text class="v" x="894.1" y="654.5" fill="#B03A3A" stroke="#B03A3A" textLength="73.8" lengthAdjust="spacingAndGlyphs">-5,1%</text>
<rect x="492.4" y="678.6" width="9.8" height="9" fill="#948A54"/>
<text class="lg" x="506.8" y="689.3" textLength="141.7" lengthAdjust="spacingAndGlyphs">ALBARICOQUES</text>
<text class="v" x="699.4" y="687.8" fill="#B03A3A" stroke="#B03A3A" textLength="88.6" lengthAdjust="spacingAndGlyphs">-13,6%</text>
<text class="v" x="894.1" y="687.8" fill="#B03A3A" stroke="#B03A3A" textLength="73.8" lengthAdjust="spacingAndGlyphs">-1,6%</text>
<rect x="492.4" y="711.6" width="9.8" height="9" fill="#60497F"/>
<text class="lg" x="506.8" y="722.3" textLength="149.4" lengthAdjust="spacingAndGlyphs">FRESAS/FRESON</text>
<text class="v" x="706.8" y="721.1" fill="#B03A3A" stroke="#B03A3A" textLength="73.8" lengthAdjust="spacingAndGlyphs">-2,9%</text>
<text class="v" x="894.1" y="721.1" fill="#B03A3A" stroke="#B03A3A" textLength="73.8" lengthAdjust="spacingAndGlyphs">-9,9%</text>
<rect x="492.4" y="744.7" width="9.8" height="9" fill="#9BBB59"/>
<text class="lg" x="506.8" y="755.4" textLength="61.9" lengthAdjust="spacingAndGlyphs">MELON</text>
<text class="v" x="699.4" y="754.4" fill="#B03A3A" stroke="#B03A3A" textLength="88.6" lengthAdjust="spacingAndGlyphs">-10,3%</text>
<text class="v" x="886.7" y="754.4" fill="#B03A3A" stroke="#B03A3A" textLength="88.6" lengthAdjust="spacingAndGlyphs">-11,4%</text>
<rect x="492.4" y="777.8" width="9.8" height="9" fill="#8064A2"/>
<text class="lg" x="506.8" y="788.5" textLength="70.0" lengthAdjust="spacingAndGlyphs">SANDIA</text>
<text class="v" x="706.8" y="787.7" fill="#B03A3A" stroke="#B03A3A" textLength="73.8" lengthAdjust="spacingAndGlyphs">-4,7%</text>
<text class="v" x="899.4" y="787.7" fill="#3C8A3C" stroke="#3C8A3C" textLength="63.2" lengthAdjust="spacingAndGlyphs">0,7%</text>
<rect x="492.4" y="810.8" width="9.8" height="9" fill="#4BACC6"/>
<text class="lg" x="506.8" y="821.5" textLength="89.2" lengthAdjust="spacingAndGlyphs">CIRUELAS</text>
<text class="v" x="712.1" y="821.0" fill="#3C8A3C" stroke="#3C8A3C" textLength="63.2" lengthAdjust="spacingAndGlyphs">3,8%</text>
<text class="v" x="899.4" y="821.0" fill="#3C8A3C" stroke="#3C8A3C" textLength="63.2" lengthAdjust="spacingAndGlyphs">4,8%</text>
<rect x="492.4" y="843.8" width="9.8" height="9" fill="#F79646"/>
<text class="lg" x="506.8" y="854.5" textLength="82.2" lengthAdjust="spacingAndGlyphs">CEREZAS</text>
<text class="v" x="712.1" y="854.3" fill="#3C8A3C" stroke="#3C8A3C" textLength="63.2" lengthAdjust="spacingAndGlyphs">4,4%</text>
<text class="v" x="892.0" y="854.3" fill="#3C8A3C" stroke="#3C8A3C" textLength="78.0" lengthAdjust="spacingAndGlyphs">19,4%</text>
<rect x="492.4" y="876.9" width="9.8" height="9" fill="#A6B6D9"/>
<text class="lg" x="506.8" y="887.6" textLength="59.5" lengthAdjust="spacingAndGlyphs">RESTO</text>
<text class="v" x="712.1" y="887.6" fill="#3C8A3C" stroke="#3C8A3C" textLength="63.2" lengthAdjust="spacingAndGlyphs">3,5%</text>
<text class="v" x="899.4" y="887.6" fill="#5AB0DC" stroke="#5AB0DC" textLength="63.2" lengthAdjust="spacingAndGlyphs">0,4%</text>
<text class="n1" x="1065.7" y="485.4" textLength="431" lengthAdjust="spacingAndGlyphs">% Variación  sobre mismo periodo del</text>
<text class="n1" x="1210" y="511" textLength="140" lengthAdjust="spacingAndGlyphs">año anterior</text>
<text class="n2" x="1134.5" y="532.6" textLength="293" lengthAdjust="spacingAndGlyphs">(100% sobre total Fruta Fresca)</text>
<text class="n3" x="1133.3" y="745.4" textLength="231" lengthAdjust="spacingAndGlyphs">Año 2017 vs año 2016</text>
</svg>
</body></html>
